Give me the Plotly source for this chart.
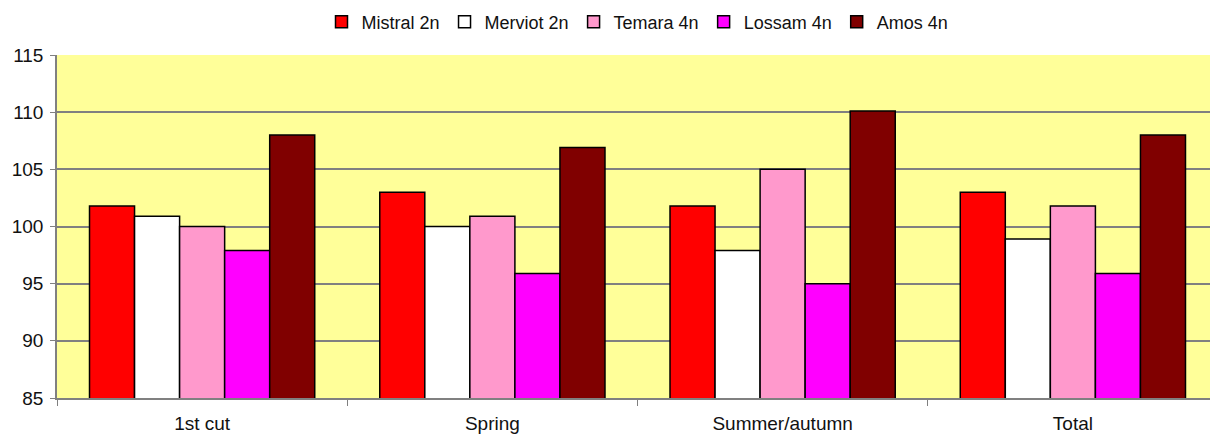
import plotly.graph_objects as go

categories = ["1st cut", "Spring", "Summer/autumn", "Total"]
series_names = ["Mistral 2n", "Merviot 2n", "Temara 4n", "Lossam 4n", "Amos 4n"]
mistral = [101.8, 103.0, 101.8, 103.0]
merviot = [100.9, 100.0, 97.9, 98.9]
temara = [100.0, 100.9, 105.0, 101.8]
lossam = [97.9, 95.9, 95.0, 95.9]
amos = [108.0, 106.9, 110.1, 108.0]
y_ticks = [85, 90, 95, 100, 105, 110, 115]

colors = ["#FF0000", "#FFFFFF", "#FF99CC", "#FF00FF", "#800000"]
values = [mistral, merviot, temara, lossam, amos]

fig = go.Figure()
for name, vals, col in zip(series_names, values, colors):
    fig.add_trace(go.Bar(
        x=categories, y=vals, name=name, base=0,
        marker=dict(color=col, line=dict(color="#000000", width=1.5)),
    ))

# page body has an 8px default margin, so the figure is sized/offset to fit the window
W, H = 1210, 429
fig.update_layout(
    width=W, height=H,
    margin=dict(l=49, r=0, t=47, b=39, autoexpand=False),
    paper_bgcolor="#FFFFFF",
    plot_bgcolor="#FFFF99",
    barmode="group",
    bargap=0.224,
    bargroupgap=0,
    font=dict(family="Liberation Sans, Arial, sans-serif", size=19, color="#111111"),
    legend=dict(
        orientation="h", x=0.5, xanchor="center",
        yref="container", y=1 - 14 / H, yanchor="middle",
        font=dict(size=18), itemwidth=30, tracegroupgap=0,
        traceorder="normal",
    ),
    showlegend=True,
)
fig.update_xaxes(
    type="category", tickson="boundaries", ticks="outside", ticklen=6,
    tickcolor="#808080", showline=True, linecolor="#808080", linewidth=1.5,
    showgrid=False, range=[-0.5, 3.5], automargin=False,
    ticklabelstandoff=7,
)
fig.update_yaxes(
    range=[85, 115], tickvals=y_ticks, ticks="outside", ticklen=5,
    tickcolor="#808080", showline=True, linecolor="#808080", linewidth=1.5,
    showgrid=True, gridcolor="#808080", gridwidth=1.5, zeroline=False,
    automargin=False, ticklabelstandoff=3,
)

fig.write_html("out.html")
